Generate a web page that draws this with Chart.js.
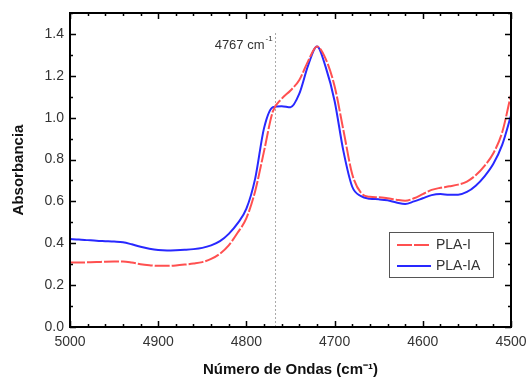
<!DOCTYPE html>
<html>
<head>
    <title>Absorbancia PLA-I / PLA-IA</title>
    <script src="https://cdn.jsdelivr.net/npm/chart.js"></script>
    <style>
        body { margin: 0; background: #fff; }
        #wrap { width: 529px; height: 380px; }
    </style>
</head>
<body>
    <div id="wrap"><canvas id="spectrum" width="529" height="380"></canvas></div>
    <script>
        // wavenumbers (cm-1), read every 10 units off the figure
        const wavenumbers = [5000, 4990, 4980, 4970, 4960, 4950, 4940, 4930, 4920, 4910,
            4900, 4890, 4880, 4870, 4860, 4850, 4840, 4830, 4820, 4810,
            4800, 4790, 4780, 4770, 4760, 4750, 4740, 4730, 4720, 4710,
            4700, 4690, 4680, 4670, 4660, 4650, 4640, 4630, 4620, 4610,
            4600, 4590, 4580, 4570, 4560, 4550, 4540, 4530, 4520, 4510, 4500];
        const plaI = [0.308, 0.308, 0.309, 0.310, 0.312, 0.313, 0.313, 0.308, 0.300, 0.295,
            0.292, 0.292, 0.294, 0.298, 0.303, 0.310, 0.325, 0.350, 0.390, 0.450,
            0.520, 0.650, 0.840, 1.030, 1.090, 1.130, 1.180, 1.270, 1.340, 1.280,
            1.150, 0.940, 0.730, 0.640, 0.622, 0.620, 0.615, 0.608, 0.603, 0.615,
            0.635, 0.655, 0.665, 0.672, 0.680, 0.695, 0.725, 0.770, 0.830, 0.930, 1.110];
        const plaIA = [0.420, 0.418, 0.415, 0.412, 0.410, 0.408, 0.405, 0.395, 0.383, 0.374,
            0.368, 0.366, 0.367, 0.369, 0.372, 0.378, 0.390, 0.410, 0.445, 0.495,
            0.565, 0.710, 0.950, 1.050, 1.055, 1.050, 1.115, 1.250, 1.340, 1.240,
            1.080, 0.840, 0.670, 0.625, 0.613, 0.610, 0.605, 0.595, 0.588, 0.600,
            0.615, 0.630, 0.635, 0.632, 0.632, 0.645, 0.675, 0.720, 0.780, 0.870, 1.010];
        const markerWavenumber = 4767;
        const markerTop = 1.41;

        const redColor = 'rgb(255, 80, 80)';
        const blueColor = 'rgb(40, 40, 255)';

        const toPoints = (ys) => wavenumbers.map((w, i) => ({ x: w, y: ys[i] }));

        // frame, inward ticks on all four sides, annotation and legend box
        const framePlugin = {
            id: 'frame',
            afterDatasetsDraw(chart) {
                const { ctx, chartArea: a, scales: { x, y } } = chart;
                ctx.save();
                ctx.strokeStyle = '#000';
                ctx.lineWidth = 1.5;
                for (let i = 0; i <= 25; i++) {
                    const w = 4500 + i * 20;
                    const px = Math.round(x.getPixelForValue(w)) + 0.5;
                    const len = (w % 100 === 0) ? 6 : 3;
                    ctx.beginPath();
                    ctx.moveTo(px, a.bottom); ctx.lineTo(px, a.bottom - len);
                    ctx.moveTo(px, a.top); ctx.lineTo(px, a.top + len);
                    ctx.stroke();
                }
                for (let i = 0; i <= 15; i++) {
                    const py = Math.round(y.getPixelForValue(i / 10)) + 0.5;
                    const len = (i % 2 === 0) ? 6 : 3;
                    ctx.beginPath();
                    ctx.moveTo(a.left, py); ctx.lineTo(a.left + len, py);
                    ctx.moveTo(a.right, py); ctx.lineTo(a.right - len, py);
                    ctx.stroke();
                }
                ctx.lineWidth = 2;
                ctx.strokeRect(a.left, a.top, a.right - a.left, a.bottom - a.top);
                ctx.restore();
            },
            afterDraw(chart) {
                const { ctx, chartArea: a, scales: { x, y } } = chart;
                ctx.save();
                // label next to the dotted marker
                const mx = x.getPixelForValue(markerWavenumber);
                const my = y.getPixelForValue(markerTop);
                ctx.fillStyle = '#333';
                ctx.font = '13px "Liberation Sans", Arial, sans-serif';
                ctx.textBaseline = 'alphabetic';
                ctx.textAlign = 'right';
                ctx.fillText('4767 cm', mx - 11, my + 17);
                ctx.font = '8px "Liberation Sans", Arial, sans-serif';
                ctx.textAlign = 'left';
                ctx.fillText('-1', mx - 10, my + 9);

                // legend
                const bx = a.right - 122, by = a.bottom - 95, bw = 104, bh = 45;
                ctx.strokeStyle = '#555';
                ctx.lineWidth = 1;
                ctx.strokeRect(bx + 0.5, by + 0.5, bw, bh);
                ctx.font = '14px "Liberation Sans", Arial, sans-serif';
                ctx.textBaseline = 'middle';
                chart.data.datasets.forEach((ds, i) => {
                    if (!ds.label) return;
                    const ly = by + 13 + i * 21;
                    ctx.strokeStyle = ds.borderColor;
                    ctx.lineWidth = ds.borderWidth;
                    ctx.setLineDash(ds.borderDash || []);
                    ctx.beginPath();
                    ctx.moveTo(bx + 8, ly); ctx.lineTo(bx + 42, ly);
                    ctx.stroke();
                    ctx.setLineDash([]);
                    ctx.fillStyle = '#333';
                    ctx.fillText(ds.label, bx + 47, ly);
                });
                ctx.restore();
            }
        };

        const ctx = document.getElementById('spectrum').getContext('2d');
        const spectrumChart = new Chart(ctx, {
            type: 'line',
            data: {
                datasets: [{
                    label: 'PLA-I',
                    data: toPoints(plaI),
                    borderColor: redColor,
                    borderWidth: 2,
                    borderDash: [15, 2],
                    pointRadius: 0,
                    cubicInterpolationMode: 'monotone',
                    fill: false
                },
                {
                    label: 'PLA-IA',
                    data: toPoints(plaIA),
                    borderColor: blueColor,
                    borderWidth: 2,
                    pointRadius: 0,
                    cubicInterpolationMode: 'monotone',
                    fill: false
                },
                {
                    label: '',
                    data: [{ x: markerWavenumber, y: 0 }, { x: markerWavenumber, y: markerTop }],
                    borderColor: '#aaa',
                    borderWidth: 1,
                    borderDash: [2, 2],
                    pointRadius: 0,
                    fill: false
                }]
            },
            options: {
                responsive: false,
                animation: false,
                layout: { padding: { left: 0, top: 13, right: 18, bottom: 0 } },
                plugins: { legend: { display: false }, tooltip: { enabled: false } },
                scales: {
                    x: {
                        type: 'linear',
                        reverse: true,
                        min: 4500,
                        max: 5000,
                        afterFit: (scale) => {
                            scale.height = 53;
                            scale.paddingLeft = 0;
                            scale.paddingRight = 0;
                        },
                        grid: { display: false, drawTicks: false },
                        border: { display: false },
                        ticks: {
                            stepSize: 100,
                            padding: 7,
                            color: '#333',
                            font: { size: 14, family: '"Liberation Sans", Arial, sans-serif' },
                            maxRotation: 0,
                            callback: (v) => String(v)
                        },
                        title: {
                            display: true,
                            text: 'Número de Ondas (cm⁻¹)',
                            color: '#111',
                            font: { size: 15, weight: 'bold', family: '"Liberation Sans", Arial, sans-serif' },
                            padding: { top: 0, bottom: 1 }
                        }
                    },
                    y: {
                        min: 0,
                        max: 1.5,
                        afterFit: (scale) => {
                            scale.width = 70;
                            scale.paddingTop = 0;
                            scale.paddingBottom = 0;
                        },
                        grid: { display: false, drawTicks: false },
                        border: { display: false },
                        ticks: {
                            stepSize: 0.2,
                            includeBounds: false,
                            padding: 6,
                            color: '#333',
                            font: { size: 14, family: '"Liberation Sans", Arial, sans-serif' },
                            callback: (v) => v.toFixed(1)
                        },
                        title: {
                            display: true,
                            text: 'Absorbancia',
                            color: '#111',
                            font: { size: 15, weight: 'bold', family: '"Liberation Sans", Arial, sans-serif' },
                            padding: { top: 10, bottom: 0 }
                        }
                    }
                }
            },
            plugins: [framePlugin]
        });
    </script>
</body>
</html>
